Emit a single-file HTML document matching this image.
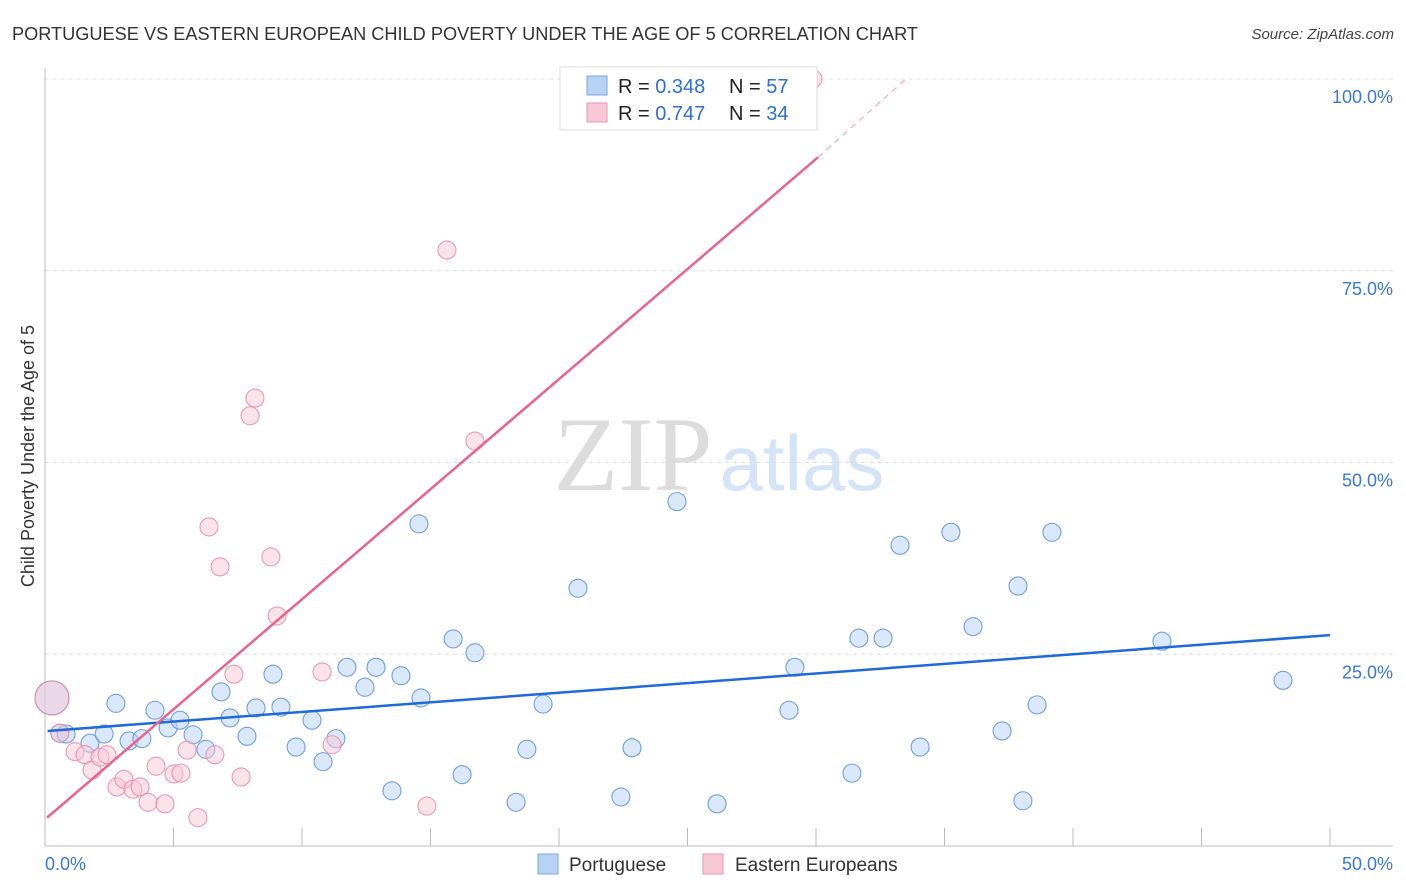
<!DOCTYPE html>
<html><head><meta charset="utf-8">
<style>
body{margin:0;background:#fff;font-family:"Liberation Sans",sans-serif;}
svg{display:block}
</style></head>
<body>
<svg id="chart" width="1406" height="892" viewBox="0 0 1406 892" xmlns="http://www.w3.org/2000/svg">
<text x="12" y="40" font-size="18.2" fill="#333" textLength="906">PORTUGUESE VS EASTERN EUROPEAN CHILD POVERTY UNDER THE AGE OF 5 CORRELATION CHART</text>
<text x="1394" y="39" font-size="15" fill="#444" font-style="italic" text-anchor="end">Source: ZipAtlas.com</text>
<text x="633" y="490" font-size="106" fill="#dcdcdc" font-family="Liberation Serif,serif" text-anchor="middle">ZIP</text>
<text x="802" y="490" font-size="78" fill="#d4e3f5" text-anchor="middle">atlas</text>
<g id="grid"></g>
<g id="axes"></g>
<g id="marks"></g>
<text transform="translate(34,456) rotate(-90)" font-size="18" fill="#333" text-anchor="middle">Child Poverty Under the Age of 5</text>
<g>
<rect x="560" y="67" width="257" height="63" fill="#fff" stroke="#ddd"/>
<rect x="587" y="76" width="20" height="19" fill="#b8d2f3" stroke="#7aa6e0"/>
<rect x="587" y="103" width="20" height="19" fill="#f8c7d5" stroke="#e896b0"/>
<text x="618" y="93" font-size="20" fill="#222">R = <tspan fill="#2f6fd1">0.348</tspan></text>
<text x="729" y="93" font-size="20" fill="#222">N = <tspan fill="#2f6fd1">57</tspan></text>
<text x="618" y="120" font-size="20" fill="#222">R = <tspan fill="#2f6fd1"> 0.747</tspan></text>
<text x="729" y="120" font-size="20" fill="#222">N = <tspan fill="#2f6fd1">34</tspan></text>
</g>
<g>
<rect x="538" y="854" width="20" height="20" fill="#b8d2f3" stroke="#7aa6e0"/>
<text x="569" y="871" font-size="19" fill="#333">Portuguese</text>
<rect x="703" y="854" width="20" height="20" fill="#f8c7d5" stroke="#e896b0"/>
<text x="735" y="871" font-size="19" fill="#333">Eastern Europeans</text>
</g>
</svg>
<script>
const xTicks=[0,5,10,15,20,25,30,35,40,45,50];
const yTicks=[25,50,75,100];
const yTickLabels=["25.0%","50.0%","75.0%","100.0%"];
const xEndLabels=["0.0%","50.0%"];
const blueX=[0.27,0.58,0.82,1.75,2.30,2.76,3.27,3.77,4.28,4.79,5.25,5.76,6.26,6.85,7.20,7.86,8.21,8.87,9.18,9.77,10.39,10.82,11.32,11.75,12.45,12.88,13.50,13.85,14.55,14.63,15.88,16.23,16.73,18.33,18.75,19.38,20.74,22.41,22.84,24.59,26.15,28.95,29.18,31.40,31.67,32.61,33.27,34.05,35.25,36.11,37.24,37.86,38.05,38.60,39.18,43.46,48.17];
const blueY=[19.3,14.7,14.6,13.4,14.6,18.6,13.7,14.0,17.7,15.4,16.4,14.5,12.6,20.1,16.7,14.3,18.0,22.4,18.1,12.9,16.4,11.0,14.0,23.3,20.7,23.3,7.2,22.2,42.0,19.3,27.0,9.3,25.2,5.7,12.6,18.5,33.6,6.4,12.8,44.9,5.5,17.7,23.3,9.5,27.1,27.1,39.2,12.9,40.9,28.6,15.0,33.9,5.9,18.4,40.9,26.7,21.6];
const pinkX=[0.27,0.58,1.17,1.56,1.83,2.14,2.41,2.80,3.07,3.42,3.70,4.01,4.32,4.67,5.02,5.29,5.53,5.95,6.38,6.61,6.81,7.35,7.63,7.98,8.17,8.79,9.03,10.78,11.17,14.86,15.64,16.73,29.88];
const pinkY=[19.3,14.7,12.3,11.9,9.9,11.6,11.9,7.7,8.7,7.4,7.7,5.7,10.4,5.5,9.4,9.5,12.5,3.7,41.6,11.9,36.4,22.4,9.0,56.1,58.4,37.7,30.0,22.7,13.2,5.2,77.7,52.8,100];
const blueTrend=[[0.1,15.0],[50,27.5]];
const pinkTrend=[[0.08,3.7],[30.08,89.8]];
const pinkTrendExt=[[30.08,89.8],[33.5,100]];
const NS="http://www.w3.org/2000/svg";
const X0=45,X1=1330,Y0=846,Y1=79;
function sx(v){return X0+(v/50)*(X1-X0);}
function sy(v){return Y0-(v/100)*(Y0-Y1);}
function mk(tag,attrs,parent){const e=document.createElementNS(NS,tag);for(const k in attrs)e.setAttribute(k,attrs[k]);parent.appendChild(e);return e;}
const grid=document.getElementById('grid'),axes=document.getElementById('axes'),marks=document.getElementById('marks');
yTicks.forEach((t,i)=>{
 const g=mk('line',{x1:X0,x2:1393,y1:sy(t),y2:sy(t),stroke:'#ddd','stroke-dasharray':'4,4'},grid);
 
 
 const l=mk('text',{x:1393,y:sy(t)+24,'font-size':18,fill:'#3a78d6','text-anchor':'end'},axes);
 l.textContent=yTickLabels[i];
 
 
});
const ya=mk('line',{x1:X0,x2:X0,y1:68,y2:Y0,stroke:'#bbb'},axes);


const xa=mk('line',{x1:X0,x2:1393,y1:Y0,y2:Y0,stroke:'#bbb'},axes);


xTicks.slice(1).forEach(t=>{
 const k=mk('line',{x1:sx(t),x2:sx(t),y1:Y0,y2:828,stroke:'#bbb'},axes);
 
 
});
const l0=mk('text',{x:45,y:870,'font-size':18,fill:'#3a78d6'},axes);l0.textContent=xEndLabels[0];


const l1=mk('text',{x:1393,y:870,'font-size':18,fill:'#3a78d6','text-anchor':'end'},axes);l1.textContent=xEndLabels[1];


function dots(xs,ys,fill,stroke,name){
 xs.forEach((x,i)=>{
  const r=(i===0)?17:9;
  const c=mk('circle',{cx:sx(x),cy:sy(ys[i]),r:r,fill:fill,'fill-opacity':0.5,stroke:stroke,'stroke-opacity':0.85,'stroke-width':1.1},marks);
  
  
 });
}
dots(blueX,blueY,'#b8d2f3','#5b8fd9','portuguese-point');
dots(pinkX,pinkY,'#f8c7d5','#e58aa8','eastern-european-point');
const bt=mk('line',{x1:sx(blueTrend[0][0]),y1:sy(blueTrend[0][1]),x2:sx(blueTrend[1][0]),y2:sy(blueTrend[1][1]),stroke:'#1f6ad6','stroke-width':2.5},marks);


const pt=mk('line',{x1:sx(pinkTrend[0][0]),y1:sy(pinkTrend[0][1]),x2:sx(pinkTrend[1][0]),y2:sy(pinkTrend[1][1]),stroke:'#e8648f','stroke-width':2.5},marks);


const pe=mk('line',{x1:sx(pinkTrendExt[0][0]),y1:sy(pinkTrendExt[0][1]),x2:sx(pinkTrendExt[1][0]),y2:sy(pinkTrendExt[1][1]),stroke:'#f0a8bf','stroke-width':1.2,'stroke-dasharray':'6,5'},marks);


</script>
</body></html>
